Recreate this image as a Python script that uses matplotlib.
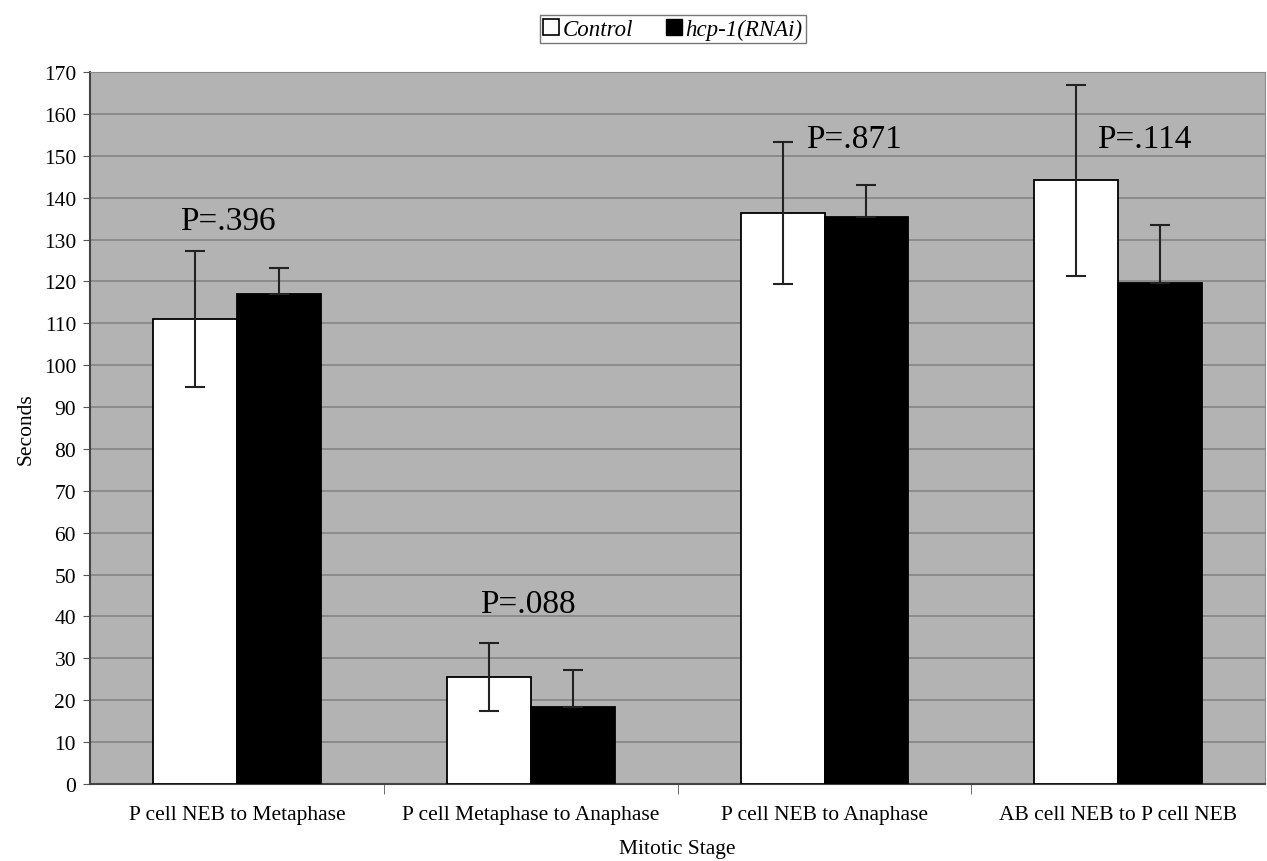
import matplotlib.pyplot as plt
import numpy as np
from matplotlib.patches import Patch

plt.rcParams['font.family'] = ['Liberation Serif', 'DejaVu Serif']

# data
stages = ['P cell NEB to Metaphase', 'P cell Metaphase to Anaphase',
          'P cell NEB to Anaphase', 'AB cell NEB to P cell NEB']
control = [111, 25.5, 136.3, 144.2]
control_err = [16.3, 8.1, 17.0, 22.8]
rnai = [117, 18.5, 135.5, 119.6]
rnai_err = [6.1, 8.8, 7.6, 13.9]
p_labels = ['P=.396', 'P=.088', 'P=.871', 'P=.114']

fig = plt.figure(figsize=(12.67, 8.62), dpi=100)
ax = fig.add_axes([0.0710, 0.0893, 0.9276, 0.8260])
ax.set_facecolor('#b3b3b3')

x = np.arange(len(stages))
w = 0.2857
err_kw = dict(ecolor='#222222', elinewidth=1.5, capsize=7, capthick=1.5)
ax.bar(x - w / 2, control, w, yerr=control_err, color='white',
       edgecolor='black', linewidth=1.3, error_kw=err_kw, zorder=3)
ax.bar(x + w / 2, rnai, w, yerr=[[0] * 4, rnai_err], color='black',
       edgecolor='black', linewidth=1.3, error_kw=err_kw, zorder=3)

# P value annotations
p_pos = [(-0.03, 134.5), (0.99, 43), (2.1, 154), (3.09, 154)]
for lab, (px, py) in zip(p_labels, p_pos):
    ax.text(px, py, lab, ha='center', va='center', fontsize=24, zorder=4)

ax.set_xlim(-0.5, 3.5)
ax.set_ylim(0, 170)
ax.set_yticks(range(0, 171, 10))
ax.yaxis.grid(True, color='#858585', linewidth=1.2, zorder=0)
ax.set_axisbelow(True)

ax.set_xticks(x)
ax.set_xticklabels(stages, fontsize=15.5)
ax.set_xticks([0.5, 1.5, 2.5], minor=True)
ax.tick_params(axis='x', which='major', length=0, pad=15)
ax.tick_params(axis='x', which='minor', length=7, color='#555555')
ax.tick_params(axis='y', labelsize=15.5, length=5, color='#555555', pad=5)

for side in ['top', 'right']:
    ax.spines[side].set_color('#8a8a8a')
for side in ['left', 'bottom']:
    ax.spines[side].set_color('#444444')
    ax.spines[side].set_linewidth(1.5)

ax.set_xlabel('Mitotic Stage', fontsize=15.5, labelpad=11)
ax.set_ylabel('Seconds', fontsize=15.5, labelpad=6)

handles = [Patch(facecolor='white', edgecolor='black', linewidth=1.2),
           Patch(facecolor='black', edgecolor='black')]
leg = fig.legend(handles, ['Control', 'hcp-1(RNAi)'], loc='center',
                 bbox_to_anchor=(0.531, 0.965), ncol=2, frameon=True,
                 fancybox=False, edgecolor='#555555', handlelength=0.7,
                 handleheight=0.7, handletextpad=0.15, columnspacing=1.4,
                 borderpad=0.15, prop={'style': 'italic', 'size': 16.5})
leg.get_frame().set_linewidth(1.0)

fig.savefig('out.png', dpi=100)
